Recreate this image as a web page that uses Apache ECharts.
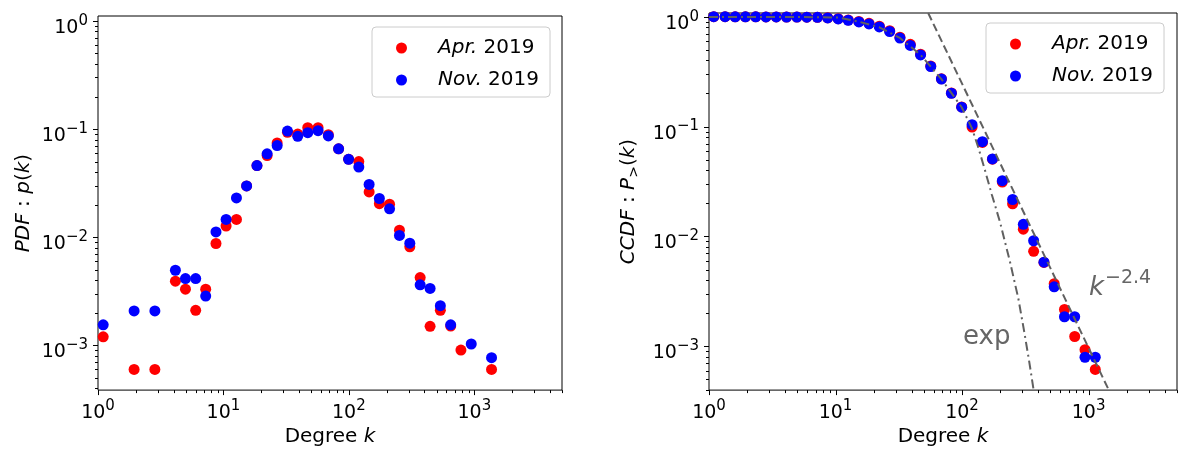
<!DOCTYPE html>
<html>
<head>
<meta charset="utf-8">
<script src="https://cdn.jsdelivr.net/npm/echarts@6/dist/echarts.min.js"></script>
<style>
  html, body { margin: 0; padding: 0; background: #fff; }
  #chart { width: 1180px; height: 452px; }
</style>
</head>
<body>
<div id="chart"></div>
<script>
// PDF, left panel
var pdfAprK = [1.10, 1.94, 2.84, 4.14, 4.98, 6.01, 7.22, 8.72, 10.5, 12.7, 15.3, 18.5, 22.3, 26.8, 32.4, 39.1, 47.0, 56.8, 68.6, 82.8, 99.5, 120, 145, 175, 211, 253, 306, 370, 444, 536, 648, 782, 1372];
var pdfApr = [1.20e-3, 6.0e-4, 6.0e-4, 3.92e-3, 3.31e-3, 2.11e-3, 3.31e-3, 8.75e-3, 1.27e-2, 1.46e-2, 2.98e-2, 4.6e-2, 5.69e-2, 7.44e-2, 9.33e-2, 8.99e-2, 0.103, 0.103, 8.87e-2, 6.56e-2, 5.27e-2, 5.01e-2, 2.62e-2, 2.04e-2, 2.02e-2, 1.16e-2, 8.15e-3, 4.24e-3, 1.50e-3, 2.11e-3, 1.51e-3, 9.06e-4, 6.0e-4];
var pdfNovK = [1.10, 1.94, 2.84, 4.14, 4.98, 6.01, 7.22, 8.72, 10.5, 12.7, 15.3, 18.5, 22.3, 26.8, 32.4, 39.1, 47.0, 56.8, 68.6, 82.8, 99.5, 120, 145, 175, 211, 253, 306, 370, 444, 536, 648, 945, 1372];
var pdfNov = [1.55e-3, 2.08e-3, 2.08e-3, 4.95e-3, 4.15e-3, 4.15e-3, 2.86e-3, 1.12e-2, 1.46e-2, 2.31e-2, 2.98e-2, 4.6e-2, 5.9e-2, 7.03e-2, 9.59e-2, 8.57e-2, 9.25e-2, 9.66e-2, 8.63e-2, 6.56e-2, 5.25e-2, 4.45e-2, 3.08e-2, 2.28e-2, 1.83e-2, 1.04e-2, 8.81e-3, 3.63e-3, 3.36e-3, 2.33e-3, 1.55e-3, 1.03e-3, 7.7e-4];

// CCDF, right panel
var ccdfK = [1.09, 1.34, 1.61, 1.94, 2.34, 2.82, 3.40, 4.10, 4.95, 5.93, 7.19, 8.67, 10.5, 12.6, 15.3, 18.4, 22.2, 26.8, 32.3, 39.0, 47.0, 56.6, 68.7, 82.4, 99.3, 120, 145, 174, 208, 251, 305, 368, 444, 535, 645, 777, 937, 1130];
var ccdfApr = [1.0, 1.0, 0.998, 0.997, 0.996, 0.995, 0.994, 0.993, 0.991, 0.989, 0.988, 0.976, 0.958, 0.935, 0.905, 0.87, 0.82, 0.745, 0.65, 0.56, 0.455, 0.355, 0.272, 0.202, 0.151, 0.099, 0.0717, 0.0505, 0.0313, 0.0198, 0.01164, 0.00733, 0.0058, 0.00372, 0.00217, 0.00123, 0.000933, 0.000617];
var ccdfNov = [1.0, 1.0, 0.998, 0.997, 0.996, 0.995, 0.994, 0.993, 0.991, 0.989, 0.986, 0.973, 0.953, 0.927, 0.895, 0.859, 0.807, 0.733, 0.638, 0.548, 0.449, 0.352, 0.271, 0.201, 0.150, 0.104, 0.0728, 0.0508, 0.0322, 0.0217, 0.0129, 0.00914, 0.00583, 0.00348, 0.00186, 0.00186, 0.000796, 0.000796];

// fitted curves
var expK = [1, 2, 4, 7, 10.5, 15.3, 22.2, 32.3, 47, 68.7, 99.3, 120, 135, 150, 172, 200, 240, 279, 310, 340, 368];
var expY = [0.995, 0.995, 0.994, 0.99, 0.983, 0.9, 0.8, 0.64, 0.45, 0.27, 0.15, 0.096, 0.0634, 0.042, 0.024, 0.0134, 0.0058, 0.0027, 0.00136, 0.00072, 0.0004];
var powK = [54, 1422];
var powY = [1.08, 4.16e-4];

var seriesNames = ["Apr. 2019", "Nov. 2019"];

var FONT = "DejaVu Sans";
var pdfRange = { xMin: 1, xMax: 5000, yMin: 3.86e-4, yMax: 1.11 };
var ccdfRange = { xMin: 1, xMax: 5000, yMin: 4.0e-4, yMax: 1.08 };

function zip(a, b) {
  return a.map(function (v, i) { return [v, b[i]]; });
}

function isPow10(v) {
  var l = Math.log10(v);
  return Math.abs(l - Math.round(l)) < 1e-6;
}

function powLabel(v) {
  if (!isPow10(v)) return "";
  var e = Math.round(Math.log10(v));
  return "{b|10}{s|" + (e < 0 ? "\u2212" + (-e) : e) + "}";
}

// ticks at 1..9 x 10^n inside [lo, hi]
function logTicks(lo, hi) {
  var out = [];
  for (var n = -4; n <= 4; n++) {
    for (var m = 1; m <= 9; m++) {
      var v = m * Math.pow(10, n);
      if (v >= lo * 0.9999 && v <= hi * 1.0001) out.push(v);
    }
  }
  return out;
}

var labelRich = {
  b: { fontSize: 19, fontFamily: FONT, color: "#000" },
  s: { fontSize: 15, fontFamily: FONT, color: "#000", padding: [0, 0, 12, 0] }
};
var yLabelRich = {
  b: { fontSize: 19, fontFamily: FONT, color: "#000", padding: [14, 0, 0, 0] },
  s: { fontSize: 15, fontFamily: FONT, color: "#000" }
};
var nameRich = {
  n: { fontSize: 20, fontFamily: FONT, color: "#000" },
  i: { fontSize: 20, fontFamily: FONT, color: "#000", fontStyle: "italic" },
  sub: { fontSize: 14, fontFamily: FONT, color: "#000", padding: [10, 0, 0, 0] }
};

function xAxisOf(gi, r) {
  return {
    type: "log", logBase: 10, gridIndex: gi, min: r.xMin, max: r.xMax,
    axisLine: { show: false }, axisTick: { show: false }, splitLine: { show: false },
    axisLabel: { formatter: powLabel, margin: 9, rich: labelRich },
    name: "{n|Degree }{i|k}", nameLocation: "middle", nameGap: 29,
    nameTextStyle: { rich: nameRich }
  };
}

function yAxisOf(gi, r, name, gap) {
  return {
    type: "log", logBase: 10, gridIndex: gi, min: r.yMin, max: r.yMax,
    axisLine: { show: false }, axisTick: { show: false }, splitLine: { show: false },
    axisLabel: { formatter: powLabel, margin: 10, rich: yLabelRich },
    name: name, nameLocation: "middle", nameRotate: 90, nameGap: gap,
    nameTextStyle: { rich: nameRich }
  };
}

function tickSeries(gi, r, dir) {
  var vals = dir === "x" ? logTicks(r.xMin, r.xMax) : logTicks(r.yMin, r.yMax);
  return {
    type: "custom", xAxisIndex: gi, yAxisIndex: gi, silent: true, clip: false, z: 10,
    data: vals.map(function (v) { return dir === "x" ? [v, r.yMin] : [r.xMin, v]; }),
    renderItem: function (params, api) {
      var p = api.coord([api.value(0), api.value(1)]);
      var v = dir === "x" ? api.value(0) : api.value(1);
      var len = isPow10(v) ? 5 : 3;
      var shape = dir === "x"
        ? { x1: Math.round(p[0]) + 0.5, y1: p[1], x2: Math.round(p[0]) + 0.5, y2: p[1] + len }
        : { x1: p[0] - len, y1: Math.round(p[1]) + 0.5, x2: p[0], y2: Math.round(p[1]) + 0.5 };
      return { type: "line", shape: shape, style: { stroke: "#000", lineWidth: 1 } };
    }
  };
}

function scatter(gi, name, data, color) {
  return {
    type: "scatter", name: name, xAxisIndex: gi, yAxisIndex: gi,
    data: data, symbolSize: 11, itemStyle: { color: color, opacity: 1 },
    emphasis: { disabled: true }
  };
}

function legendOf(left, top) {
  return {
    left: left, top: top, orient: "vertical", icon: "circle",
    itemWidth: 37, itemHeight: 11, itemGap: 12,
    padding: [11, 11, 7, 24], borderColor: "#ccc", borderWidth: 1, borderRadius: 4,
    backgroundColor: "rgba(255,255,255,0.8)", selectedMode: false,
    data: seriesNames,
    formatter: function (name) {
      var parts = name.split(" ");
      return "{g|\u00a0}{i|" + parts[0] + "}{n| " + parts[1] + "}";
    },
    textStyle: {
      rich: {
        g: { width: 13, fontSize: 20, lineHeight: 20 },
        i: { fontSize: 20, fontFamily: FONT, fontStyle: "italic", color: "#000", lineHeight: 20 },
        n: { fontSize: 20, fontFamily: FONT, color: "#000", lineHeight: 20 }
      }
    }
  };
}

var chart = echarts.init(document.getElementById("chart"), null, { renderer: "canvas" });
chart.setOption({
  animation: false,
  backgroundColor: "#fff",
  textStyle: { fontFamily: FONT },
  grid: [
    { left: 98, top: 16, width: 464, height: 377, show: true, borderColor: "#000", borderWidth: 1, backgroundColor: "transparent" },
    { left: 709, top: 13, width: 470, height: 380, show: true, borderColor: "#000", borderWidth: 1, backgroundColor: "transparent" }
  ],
  xAxis: [xAxisOf(0, pdfRange), xAxisOf(1, ccdfRange)],
  yAxis: [
    yAxisOf(0, pdfRange, "{i|PDF}{n| : }{i|p}{n|(}{i|k}{n|)}", 64),
    yAxisOf(1, ccdfRange, "{i|CCDF}{n| : }{i|P}{sub|>}{n|(}{i|k}{n|)}", 68)
  ],
  legend: [legendOf(372, 27), legendOf(986, 23)],
  series: [
    scatter(0, seriesNames[0], zip(pdfAprK, pdfApr), "#ff0000"),
    scatter(0, seriesNames[1], zip(pdfNovK, pdfNov), "#0000ff"),
    scatter(1, seriesNames[0], zip(ccdfK, ccdfApr), "#ff0000"),
    scatter(1, seriesNames[1], zip(ccdfK, ccdfNov), "#0000ff"),
    {
      type: "line", xAxisIndex: 1, yAxisIndex: 1, data: zip(expK, expY),
      showSymbol: false, symbol: "none", silent: true, z: 5,
      lineStyle: { color: "#606060", width: 2, type: [9, 4, 2, 4] }
    },
    {
      type: "line", xAxisIndex: 1, yAxisIndex: 1, data: zip(powK, powY),
      showSymbol: false, symbol: "none", silent: true, z: 5,
      lineStyle: { color: "#606060", width: 2, type: [8, 4] }
    },
    tickSeries(0, pdfRange, "x"), tickSeries(0, pdfRange, "y"),
    tickSeries(1, ccdfRange, "x"), tickSeries(1, ccdfRange, "y")
  ],
  graphic: [
    { type: "text", x: 963, y: 337, style: { text: "exp", font: "26px 'DejaVu Sans'", fill: "#666", verticalAlign: "middle" } },
    { type: "text", x: 1089, y: 288, style: { text: "k", font: "italic 26px 'DejaVu Sans'", fill: "#666", verticalAlign: "middle" } },
    { type: "text", x: 1105, y: 278, style: { text: "\u22122.4", font: "19px 'DejaVu Sans'", fill: "#666", verticalAlign: "middle" } }
  ]
});
</script>
</body>
</html>
